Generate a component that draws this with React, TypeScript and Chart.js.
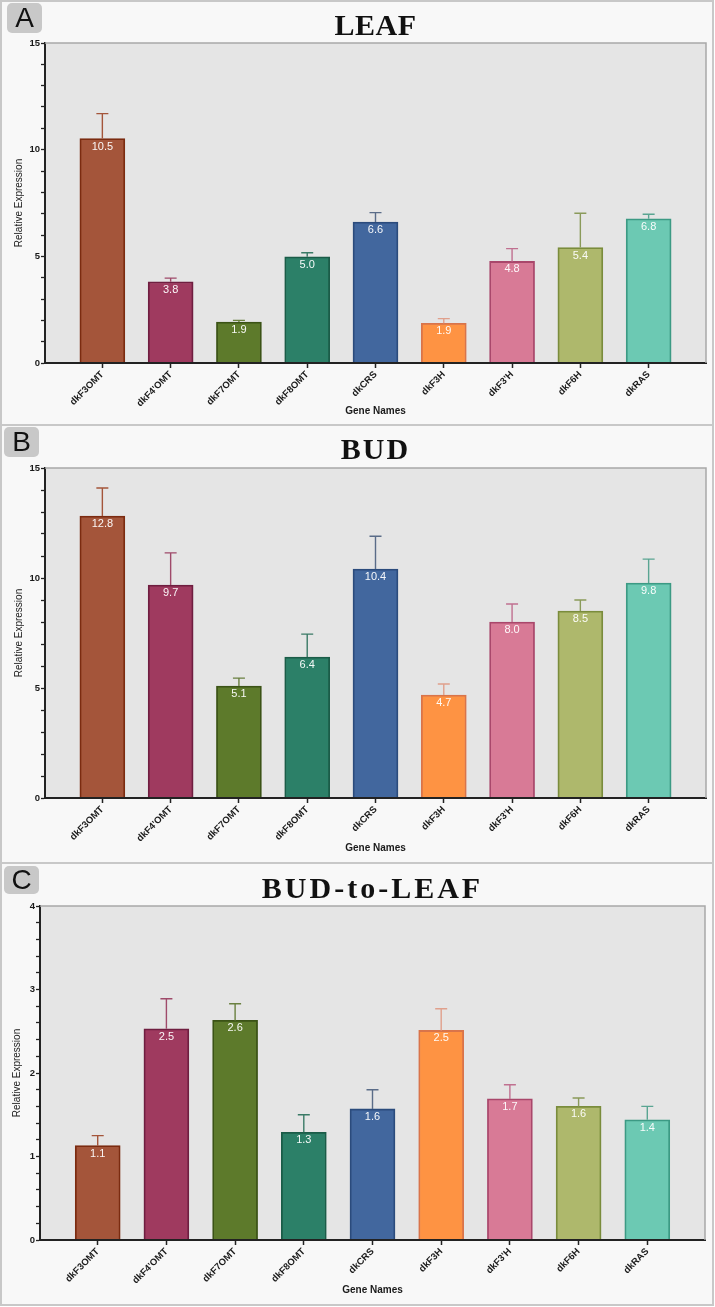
import { useEffect, useRef } from "react";
import { Chart, registerables } from "chart.js";

Chart.register(...registerables);

const FONT = '"Liberation Sans", Arial, Helvetica, sans-serif';

// ---- data ----
const GENES = ["dkF3OMT", "dkF4'OMT", "dkF7OMT", "dkF8OMT", "dkCRS", "dkF3H", "dkF3'H", "dkF6H", "dkRAS"];

const LEAF_VALUES = [10.52, 3.81, 1.92, 4.98, 6.61, 1.86, 4.76, 5.41, 6.76];
const LEAF_ERRORS = [1.17, 0.17, 0.08, 0.19, 0.44, 0.22, 0.6, 1.61, 0.21];

const BUD_VALUES = [12.82, 9.68, 5.09, 6.41, 10.41, 4.68, 8.0, 8.5, 9.77];
const BUD_ERRORS = [1.27, 1.46, 0.36, 1.04, 1.49, 0.5, 0.82, 0.5, 1.09];

const RATIO_VALUES = [1.13, 2.53, 2.63, 1.29, 1.57, 2.51, 1.69, 1.6, 1.44];
const RATIO_ERRORS = [0.12, 0.36, 0.2, 0.21, 0.23, 0.26, 0.17, 0.1, 0.16];

const LEAF_MAJOR_TICKS = [0, 5, 10, 15];
const BUD_MAJOR_TICKS = [0, 5, 10, 15];
const RATIO_MAJOR_TICKS = [0, 1, 2, 3, 4];

const FILL_COLORS = ["#a4553a", "#9f3a5f", "#5d7a2b", "#2c8068", "#42679e", "#fe9343", "#d87a96", "#aeb86c", "#6cc9b3"];
const BORDER_COLORS = ["#7b2b10", "#6f1e40", "#3b5316", "#1b5c48", "#2b4b7c", "#d9744a", "#a9476b", "#7a8c3c", "#3c9a84"];
const ERROR_COLORS = ["#a4553a", "#9f4a6a", "#6a8040", "#3a7a66", "#5a6c88", "#e0a08c", "#c07090", "#8a9a5a", "#5aa592"];

type PanelCfg = {
  letter: string;
  title: string;
  values: number[];
  errors: number[];
  majorTicks: number[];
  yMax: number;
  yStep: number;
  top: number;
  height: number;
  canvasH: number;
  padTop: number;
  padRight: number;
  yW: number;
  xH: number;
  yTitlePad: number;
  xTitlePad: number;
  titleTop: number;
  titleSpacing: number;
  plotLeft: number;
  plotRight: number;
  letterBox: [number, number, number, number];
};

const PANELS: PanelCfg[] = [
  {
    letter: "A", title: "LEAF", values: LEAF_VALUES, errors: LEAF_ERRORS, majorTicks: LEAF_MAJOR_TICKS,
    yMax: 15, yStep: 1, top: 0, height: 426, canvasH: 422, padTop: 41, padRight: 6, yW: 43, xH: 61,
    yTitlePad: 11.5, xTitlePad: 7, titleTop: 10, titleSpacing: 0.5, plotLeft: 45, plotRight: 706, letterBox: [7, 3, 35, 30],
  },
  {
    letter: "B", title: "BUD", values: BUD_VALUES, errors: BUD_ERRORS, majorTicks: BUD_MAJOR_TICKS,
    yMax: 15, yStep: 1, top: 424, height: 440, canvasH: 436, padTop: 42, padRight: 6, yW: 43, xH: 64,
    yTitlePad: 11.5, xTitlePad: 8, titleTop: 434, titleSpacing: 2, plotLeft: 45, plotRight: 706, letterBox: [4, 427, 35, 30],
  },
  {
    letter: "C", title: "BUD-to-LEAF", values: RATIO_VALUES, errors: RATIO_ERRORS, majorTicks: RATIO_MAJOR_TICKS,
    yMax: 4, yStep: 0.2, top: 862, height: 444, canvasH: 440, padTop: 42, padRight: 7, yW: 38, xH: 64,
    yTitlePad: 9.3, xTitlePad: 7.5, titleTop: 873, titleSpacing: 3, plotLeft: 40, plotRight: 705, letterBox: [4, 866, 35, 28],
  },
];

function BarPanel({ cfg }: { cfg: PanelCfg }) {
  const ref = useRef<HTMLCanvasElement>(null);

  useEffect(() => {
    const canvas = ref.current;
    if (!canvas) return;

    const decor = {
      id: "decor",
      beforeDraw(chart: any) {
        const { ctx, chartArea } = chart;
        ctx.save();
        ctx.fillStyle = "#e5e5e5";
        ctx.fillRect(chartArea.left, chartArea.top, chartArea.right - chartArea.left, chartArea.bottom - chartArea.top);
        ctx.restore();
      },
      afterDatasetsDraw(chart: any) {
        const ctx = chart.ctx;
        const yScale = chart.scales.y;
        const meta = chart.getDatasetMeta(0);
        meta.data.forEach((bar: any, i: number) => {
          const v = cfg.values[i];
          const e = cfg.errors[i];
          const yTop = yScale.getPixelForValue(v + e);
          const x = bar.x;
          ctx.save();
          ctx.strokeStyle = ERROR_COLORS[i];
          ctx.lineWidth = 1.4;
          ctx.beginPath();
          ctx.moveTo(x, bar.y);
          ctx.lineTo(x, yTop);
          ctx.moveTo(x - 6, yTop);
          ctx.lineTo(x + 6, yTop);
          ctx.stroke();
          ctx.fillStyle = "rgba(255,255,255,0.95)";
          ctx.font = `11px ${FONT}`;
          ctx.textAlign = "center";
          ctx.textBaseline = "middle";
          ctx.fillText(v.toFixed(1), x, bar.y + 8);
          ctx.restore();
        });
      },
      afterDraw(chart: any) {
        const { ctx, chartArea } = chart;
        ctx.save();
        ctx.strokeStyle = "#a8a8a8";
        ctx.lineWidth = 1.5;
        ctx.beginPath();
        ctx.moveTo(chartArea.left, chartArea.top);
        ctx.lineTo(chartArea.right, chartArea.top);
        ctx.lineTo(chartArea.right, chartArea.bottom);
        ctx.stroke();
        ctx.restore();
      },
    };

    const isMajor = (v: number) => cfg.majorTicks.some((m) => Math.abs(m - v) < 1e-6);

    const chart = new Chart(canvas, {
      type: "bar",
      data: {
        datasets: [
          {
            data: cfg.values.map((v, i) => ({ x: i, y: v })),
            backgroundColor: FILL_COLORS,
            borderColor: BORDER_COLORS,
            borderWidth: 1.8,
            barThickness: 45,
          },
        ],
      },
      options: {
        responsive: false,
        maintainAspectRatio: false,
        animation: false,
        layout: { padding: { top: cfg.padTop, right: cfg.padRight, left: 0, bottom: 0 } },
        plugins: { legend: { display: false }, tooltip: { enabled: false } },
        scales: {
          x: {
            type: "linear",
            min: -0.84,
            max: 8.84,
            offset: false,
            afterBuildTicks: (s: any) => {
              s.ticks = GENES.map((_, i) => ({ value: i }));
            },
            afterFit: (s: any) => {
              s.height = cfg.xH;
            },
            ticks: {
              autoSkip: false,
              minRotation: 45,
              maxRotation: 45,
              padding: 1,
              color: "#1a1a1a",
              font: { family: FONT, size: 9.5, weight: "bold" },
              callback: (v: any) => GENES[Math.round(Number(v))] ?? "",
            },
            grid: {
              offset: false,
              drawOnChartArea: false,
              drawTicks: true,
              tickLength: 5,
              tickColor: "#222",
              tickWidth: 1.5,
            },
            border: { display: true, color: "#222", width: 2, z: 1 },
            title: {
              display: true,
              text: "Gene Names",
              color: "#1a1a1a",
              font: { family: FONT, size: 10, weight: "bold" },
              padding: { top: 0, bottom: cfg.xTitlePad },
            },
          },
          y: {
            min: 0,
            max: cfg.yMax,
            afterFit: (s: any) => {
              s.width = cfg.yW;
            },
            ticks: {
              stepSize: cfg.yStep,
              autoSkip: false,
              padding: 1,
              color: "#1a1a1a",
              font: { family: FONT, size: 9.5, weight: "bold" },
              callback: (v: any) => (isMajor(Number(v)) ? String(Math.round(Number(v))) : ""),
            },
            grid: { drawOnChartArea: false, drawTicks: true, tickLength: 4, tickColor: "#222", tickWidth: 1.3 },
            border: { display: true, color: "#222", width: 2, z: 1 },
            title: {
              display: true,
              text: "Relative Expression",
              color: "#1a1a1a",
              font: { family: FONT, size: 10 },
              padding: { top: cfg.yTitlePad, bottom: 0 },
            },
          },
        },
      } as any,
      plugins: [decor],
    });

    return () => chart.destroy();
  }, [cfg]);

  return (
    <div
      style={{
        position: "absolute",
        left: 0,
        top: cfg.top,
        width: 714,
        height: cfg.height,
        border: "2px solid #c8c8c8",
        boxSizing: "border-box",
        background: "#f8f8f8",
      }}
    >
      <canvas
        ref={ref}
        width={710}
        height={cfg.canvasH}
        style={{ position: "absolute", left: 0, top: 0, width: 710, height: cfg.canvasH, display: "block" }}
      />
    </div>
  );
}

export default function App() {
  return (
    <div style={{ position: "absolute", left: 0, top: 0, width: 715, height: 1307, background: "#ffffff" }}>
      {PANELS.map((p) => (
        <BarPanel key={p.letter} cfg={p} />
      ))}
      {PANELS.map((p) => (
        <div
          key={"l" + p.letter}
          style={{
            position: "absolute",
            left: p.letterBox[0],
            top: p.letterBox[1],
            width: p.letterBox[2],
            height: p.letterBox[3],
            background: "#c8c8c8",
            borderRadius: 5,
            font: `28px ${FONT}`,
            lineHeight: `${p.letterBox[3]}px`,
            textAlign: "center",
            color: "#111",
          }}
        >
          {p.letter}
        </div>
      ))}
      {PANELS.map((p) => (
        <div
          key={"t" + p.letter}
          style={{
            position: "absolute",
            left: p.plotLeft,
            top: p.titleTop,
            width: p.plotRight - p.plotLeft,
            textAlign: "center",
            font: 'bold 30px "Liberation Serif", "Times New Roman", serif',
            lineHeight: "30px",
            letterSpacing: `${p.titleSpacing}px`,
            color: "#111",
            whiteSpace: "nowrap",
          }}
        >
          {p.title}
        </div>
      ))}
    </div>
  );
}
